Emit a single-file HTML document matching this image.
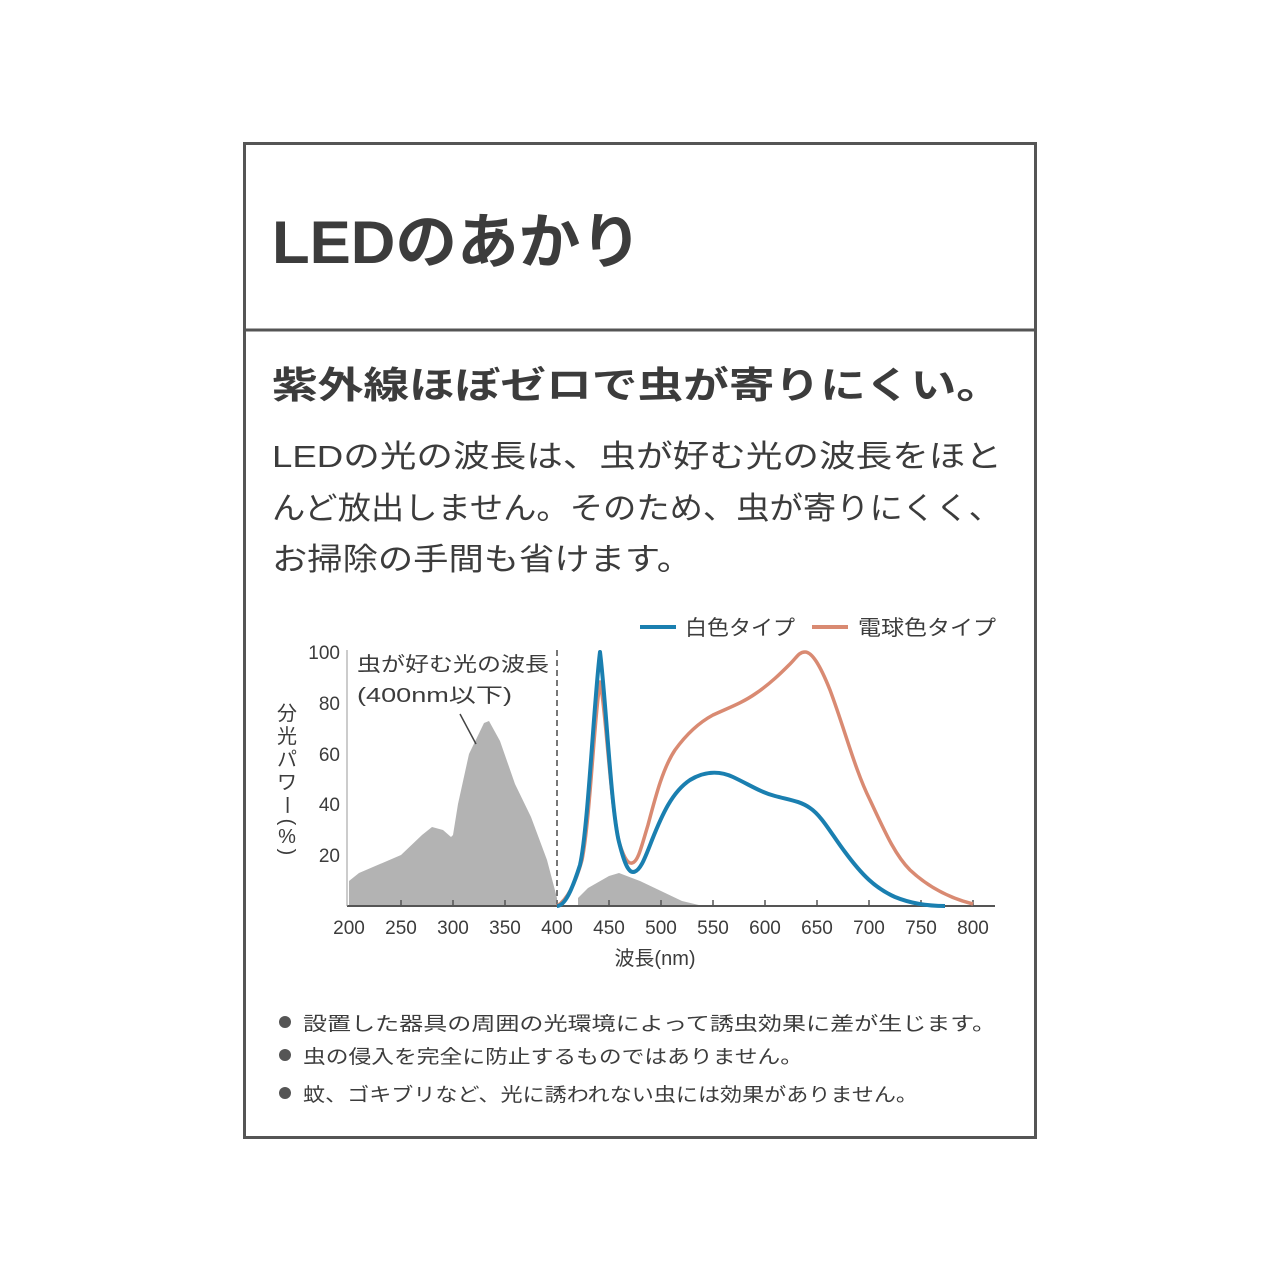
<!DOCTYPE html>
<html><head><meta charset="utf-8"><style>
html,body{margin:0;padding:0;background:#fff}
svg{display:block}
text{font-family:"Liberation Sans","Noto Sans CJK JP",sans-serif;fill:#3c3c3c}
</style></head><body>
<svg width="1280" height="1280" viewBox="0 0 1280 1280" xmlns="http://www.w3.org/2000/svg">
<rect x="244.5" y="143.5" width="791" height="994" fill="#fff" stroke="#555" stroke-width="3"/>
<line x1="244" y1="330" x2="1036" y2="330" stroke="#555" stroke-width="3"/>
<text x="272" y="263" font-size="60" font-weight="bold" fill="#454545" textLength="370" lengthAdjust="spacingAndGlyphs">LEDのあかり</text>
<text x="272" y="398" font-size="37" font-weight="bold" fill="#333" textLength="730" lengthAdjust="spacingAndGlyphs">紫外線ほぼゼロで虫が寄りにくい。</text>
<text x="272" y="467" font-size="31" textLength="730" lengthAdjust="spacingAndGlyphs">LEDの光の波長は、虫が好む光の波長をほと</text>
<text x="272" y="519" font-size="31" textLength="730" lengthAdjust="spacingAndGlyphs">んど放出しません。そのため、虫が寄りにくく、</text>
<text x="272" y="570" font-size="31" textLength="420" lengthAdjust="spacingAndGlyphs">お掃除の手間も省けます。</text>

<line x1="640" y1="627" x2="676" y2="627" stroke="#1a7fb0" stroke-width="4"/>
<text x="685" y="635" font-size="21" textLength="110" lengthAdjust="spacingAndGlyphs">白色タイプ</text>
<line x1="812" y1="627" x2="848" y2="627" stroke="#d98a72" stroke-width="4"/>
<text x="858" y="635" font-size="21" textLength="138" lengthAdjust="spacingAndGlyphs">電球色タイプ</text>

<polygon fill="#b3b3b3" points="349,906 349,881 359,873 401,855 422,835 432,827 443,830 451,837 453,835 458,804 469,754 484,723 489,721 500,741 515,784 531,817 547,860 557,898 557,906"/>
<polygon fill="#b3b3b3" points="578,906 578,898 588,888 609,876 619,873 640,881 661,891 682,901 703,906"/>
<line x1="557" y1="650" x2="557" y2="906" stroke="#777" stroke-width="2" stroke-dasharray="6,4"/>
<line x1="347" y1="906" x2="995" y2="906" stroke="#555" stroke-width="2"/>
<line x1="347" y1="650" x2="347" y2="906" stroke="#999" stroke-width="1"/>
<g font-size="19" text-anchor="end">
<text x="340" y="659">100</text><text x="340" y="710">80</text><text x="340" y="761">60</text><text x="340" y="811">40</text><text x="340" y="862">20</text>
</g>
<g stroke="#555" stroke-width="1.5">
<line x1="401" y1="906" x2="401" y2="900"/><line x1="453" y1="906" x2="453" y2="900"/><line x1="505" y1="906" x2="505" y2="900"/><line x1="609" y1="906" x2="609" y2="900"/><line x1="661" y1="906" x2="661" y2="900"/><line x1="713" y1="906" x2="713" y2="900"/><line x1="765" y1="906" x2="765" y2="900"/><line x1="817" y1="906" x2="817" y2="900"/><line x1="869" y1="906" x2="869" y2="900"/><line x1="921" y1="906" x2="921" y2="900"/><line x1="973" y1="906" x2="973" y2="900"/>
</g>
<g font-size="19" text-anchor="middle">
<text x="349" y="934">200</text><text x="401" y="934">250</text><text x="453" y="934">300</text><text x="505" y="934">350</text><text x="557" y="934">400</text><text x="609" y="934">450</text><text x="661" y="934">500</text><text x="713" y="934">550</text><text x="765" y="934">600</text><text x="817" y="934">650</text><text x="869" y="934">700</text><text x="921" y="934">750</text><text x="973" y="934">800</text>
</g>
<text x="655" y="965" font-size="20" text-anchor="middle">波長(nm)</text>
<g font-size="20" text-anchor="middle">
<text x="287" y="720">分</text><text x="287" y="743">光</text><text x="287" y="766">パ</text><text x="287" y="789">ワ</text>
<text x="287" y="812" transform="rotate(90 287 805)">ー</text>
<text x="287" y="828" transform="rotate(90 287 822)">(</text>
<text x="287" y="843">%</text>
<text x="287" y="858" transform="rotate(90 287 852)">)</text>
</g>
<text x="357" y="671" font-size="20" textLength="192" lengthAdjust="spacingAndGlyphs">虫が好む光の波長</text>
<text x="357" y="702" font-size="20" textLength="155" lengthAdjust="spacingAndGlyphs">(400nm以下)</text>
<line x1="460" y1="714" x2="476" y2="744" stroke="#444" stroke-width="1.5"/>

<path fill="none" stroke="#d98a72" stroke-width="3.5" stroke-linejoin="round" d="M557,906 C567,900 575,885 582,860 C590,820 594,720 600,682 C605,700 610,800 619,842 C624,858 628,864 632,863 C638,862 641,848 648,825 C656,795 663,768 675,750 C688,732 700,722 713,715 C728,708 742,703 755,694 C770,684 782,672 790,664 C797,657 799,652 805,652 C812,652 820,665 830,690 C845,730 855,770 870,800 C885,832 895,855 910,870 C925,884 945,897 973,904"/>
<path fill="none" stroke="#1a7fb0" stroke-width="4" stroke-linejoin="round" d="M557,906 C565,906 572,890 580,865 C588,830 594,700 600,652 C606,700 611,810 619,842 C624,862 628,872 633,872 C640,872 645,858 652,840 C662,815 672,792 690,780 C703,772 718,770 733,777 C750,785 760,792 775,796 C790,800 800,801 810,808 C822,816 832,835 845,852 C862,875 875,888 895,897 C912,904 930,906 945,906"/>

<g fill="#555"><circle cx="285" cy="1022" r="6"/><circle cx="285" cy="1055" r="6"/><circle cx="285" cy="1093" r="6"/></g>
<text x="303" y="1030" font-size="19" textLength="693" lengthAdjust="spacingAndGlyphs">設置した器具の周囲の光環境によって誘虫効果に差が生じます。</text>
<text x="303" y="1063" font-size="19" textLength="500" lengthAdjust="spacingAndGlyphs">虫の侵入を完全に防止するものではありません。</text>
<text x="303" y="1101" font-size="19" textLength="615" lengthAdjust="spacingAndGlyphs">蚊、ゴキブリなど、光に誘われない虫には効果がありません。</text>
</svg>
</body></html>
